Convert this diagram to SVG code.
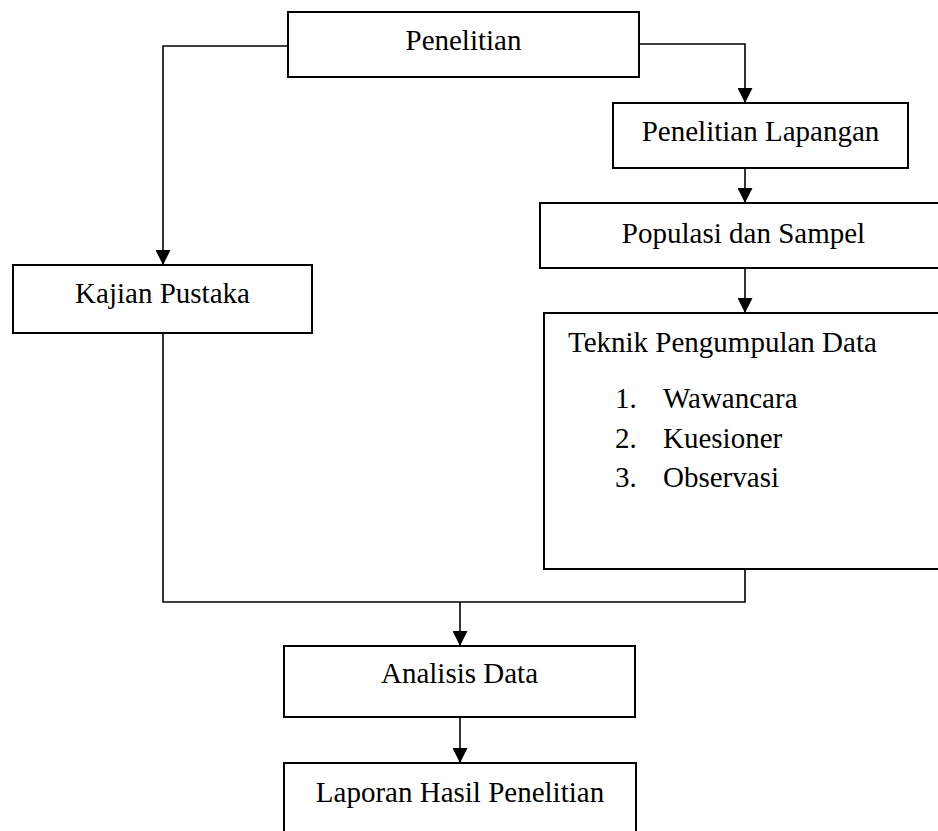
<svg xmlns="http://www.w3.org/2000/svg" width="938" height="831" viewBox="0 0 938 831">
<style>
.box{fill:#fff;stroke:#000;stroke-width:2}
.t{font-family:"Liberation Serif","Times New Roman",serif;font-size:29px;fill:#000}
.c{text-anchor:middle}
.ln{fill:none;stroke:#000;stroke-width:1.6}
</style>
<defs>
<marker id="arr" markerUnits="userSpaceOnUse" markerWidth="16" markerHeight="15" refX="15" refY="7.5" orient="auto">
<path d="M0,0 L15,7.5 L0,15 Z" fill="#000"/>
</marker>
</defs>
<rect width="938" height="831" fill="#fff"/>
<g id="connectors">
<path class="ln" d="M288,46 H163 V265" marker-end="url(#arr)"/>
<path class="ln" d="M639,44 H745 V103" marker-end="url(#arr)"/>
<path class="ln" d="M745,168 V203" marker-end="url(#arr)"/>
<path class="ln" d="M745,268 V313" marker-end="url(#arr)"/>
<path class="ln" d="M163,333 V602 H745 V569"/>
<path class="ln" d="M460,602 V646" marker-end="url(#arr)"/>
<path class="ln" d="M460,717 V763" marker-end="url(#arr)"/>
</g>
<g id="penelitian">
<rect class="box" x="288" y="12" width="351" height="65"/>
<text class="t c" x="463.5" y="50">Penelitian</text>
</g>
<g id="penelitian-lapangan">
<rect class="box" x="613" y="103" width="295" height="65"/>
<text class="t c" x="760.5" y="141">Penelitian Lapangan</text>
</g>
<g id="populasi">
<rect class="box" x="540" y="203" width="420" height="65"/>
<text class="t c" x="743.5" y="243">Populasi dan Sampel</text>
</g>
<g id="teknik">
<rect class="box" x="544" y="313" width="420" height="256"/>
<text class="t" x="568" y="352">Teknik Pengumpulan Data</text>
<text class="t" x="615" y="408">1.</text>
<text class="t" x="663" y="408">Wawancara</text>
<text class="t" x="615" y="448">2.</text>
<text class="t" x="663" y="448">Kuesioner</text>
<text class="t" x="615" y="487">3.</text>
<text class="t" x="663" y="487">Observasi</text>
</g>
<g id="kajian-pustaka">
<rect class="box" x="13" y="265" width="299" height="68"/>
<text class="t c" x="162.5" y="303">Kajian Pustaka</text>
</g>
<g id="analisis-data">
<rect class="box" x="284" y="646" width="351" height="71"/>
<text class="t c" x="459.5" y="683">Analisis Data</text>
</g>
<g id="laporan">
<rect class="box" x="284" y="763" width="352" height="90"/>
<text class="t c" x="460" y="802">Laporan Hasil Penelitian</text>
</g>
</svg>
